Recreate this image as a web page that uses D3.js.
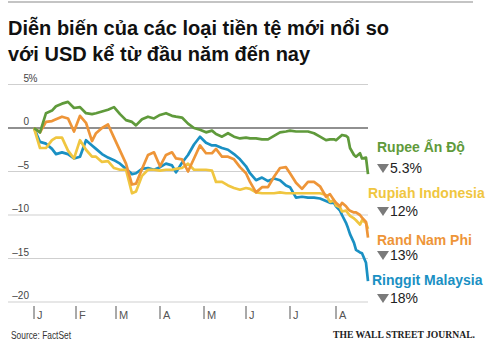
<!DOCTYPE html>
<html>
<head>
<meta charset="utf-8">
<script src="https://cdn.jsdelivr.net/npm/d3@7"></script>
<style>
  body { margin: 0; background: #fff; }
  svg { display: block; font-family: "Liberation Sans", Arial, sans-serif; }
</style>
</head>
<body>
<div id="chart"></div>
<script>
const titleLines = ["Diễn biến của các loại tiền tệ mới nổi so", "với USD kể từ đầu năm đến nay"];

// sampled trading days, 2015
const dates = [
  "2015-01-02", "2015-01-07", "2015-01-12", "2015-01-15", "2015-01-19", "2015-01-22", "2015-01-27", "2015-01-30",
  "2015-02-04", "2015-02-09", "2015-02-12", "2015-02-16", "2015-02-19", "2015-02-24", "2015-02-27",
  "2015-03-04", "2015-03-09", "2015-03-12", "2015-03-16", "2015-03-19", "2015-03-24", "2015-03-27",
  "2015-04-01", "2015-04-06", "2015-04-09", "2015-04-13", "2015-04-16", "2015-04-21", "2015-04-24", "2015-04-29",
  "2015-05-04", "2015-05-07", "2015-05-11", "2015-05-14", "2015-05-19", "2015-05-22", "2015-05-27",
  "2015-06-01", "2015-06-03", "2015-06-08", "2015-06-11", "2015-06-16", "2015-06-19", "2015-06-24", "2015-06-29",
  "2015-07-01", "2015-07-06", "2015-07-09", "2015-07-14", "2015-07-17", "2015-07-22", "2015-07-27", "2015-07-29",
  "2015-07-31", "2015-08-03", "2015-08-05", "2015-08-06", "2015-08-10", "2015-08-11", "2015-08-12", "2015-08-14",
  "2015-08-17", "2015-08-19", "2015-08-20", "2015-08-24", "2015-08-25"
];

// % change vs USD since start of year
const rupee = [
  0, -0.5, 1.7, 2.0, 2.5, 2.8, 3.0, 2.3, 2.4, 1.7, 1.6, 1.7, 1.9, 2.1, 2.4,
  1.6, 0.9, 0.7, 0.3, 1.0, 1.3, 1.1, 1.5, 1.7, 1.4, 1.3, 1.2, 0.5, 0, -0.2,
  -0.5, -0.3, -0.7, -1.0, -0.6, -1.0, -1.2, -1.1, -1.2, -1.2, -1.3, -1.3, -0.9, -0.5,
  -0.4, -0.3, -0.4, -0.4, -0.4, -0.6, -1.0, -1.4, -1.3,
  -1.3, -1.4, -1.0, -0.8, -0.9, -1.1, -2.3, -3.1, -3.3, -2.9, -3.5, -3.4, -5.3
];
const rupiah = [
  0, -2.3, -2.3, -1.4, -1.1, -1.1, -2.6, -3.5, -1.4, -2.5, -3.3, -3.3, -3.9, -3.8, -4.6,
  -4.8, -4.8, -7.5, -7.3, -5.5, -4.8, -4.8, -4.9, -4.8, -4.8, -4.7, -4.6, -4.1, -4.8, -4.8,
  -4.8, -4.9, -6.2, -6.2, -6.6, -6.9, -7.1, -6.9, -7.0, -7.4, -7.5, -7.5, -7.5, -7.4,
  -7.5, -7.5, -7.5, -7.5, -7.5, -7.5, -7.5, -7.7, -8.5,
  -8.3, -8.9, -9.1, -9.6, -9.5, -9.8, -10.1, -10.4, -10.6, -11.1, -10.6, -10.9, -11.6
];
const rand = [
  0, -0.5, 0.7, 0.8, 1.0, 1.3, 1.1, -0.4, 1.4, 0.6, -1.5, -0.6, 0.0, 0.4, -1.1,
  -2.6, -4.1, -6.5, -6.4, -4.7, -3.1, -2.8, -4.4, -3.1, -2.8, -3.5, -3.6, -5.0, -3.5, -2.0,
  -2.9, -2.9, -2.4, -3.3, -3.3, -3.6, -4.5, -5.2, -6.2, -7.4, -6.8, -6.8, -5.6, -4.6,
  -4.5, -5.2, -6.3, -7.0, -6.2, -6.2, -6.7, -7.9, -7.6,
  -8.3, -8.6, -9.0, -8.6, -9.0, -9.3, -9.5, -9.7, -9.7, -10.0, -10.3, -10.8, -12.6
];
const ringgit = [
  0, -1.6, -1.8, -2.4, -3.0, -2.8, -3.0, -3.5, -3.3, -1.4, -2.0, -2.4, -3.0, -3.4, -3.7,
  -4.1, -4.7, -5.3, -5.2, -4.7, -4.6, -4.8, -4.5, -4.1, -4.3, -5.1, -4.0, -3.1, -1.9, -1.0,
  -1.7, -2.0, -2.0, -2.3, -2.5, -3.0, -3.6, -4.4, -5.2, -6.0, -5.7, -6.1, -5.8, -6.0,
  -6.6, -6.8, -8.0, -7.9, -8.0, -8.0, -8.1, -8.4, -8.6,
  -8.6, -9.0, -9.5, -10.0, -10.9, -11.5, -12.2, -13.2, -14.0, -14.3, -14.4, -15.5, -17.6
];

const seriesNames = ["Rupee Ấn Độ", "Rupiah Indonesia", "Rand Nam Phi", "Ringgit Malaysia"];
const changeLabels = ["5.3%", "12%", "13%", "18%"];
const yTicks = [5, 0, -5, -10, -15, -20];
const monthLabels = ["J", "F", "M", "A", "M", "J", "J", "A"];

const colors = {
  rupee: "#5f9a3b",
  rupiah: "#f0c640",
  rand: "#ee9538",
  ringgit: "#1a90c3"
};

const width = 500, height = 354;
const svg = d3.select("#chart").append("svg")
  .attr("width", width)
  .attr("height", height);

const parse = d3.timeParse("%Y-%m-%d");
const start = parse(dates[0]);
const isWeekday = d => d.getDay() !== 0 && d.getDay() !== 6;
// x axis runs on trading days, not calendar days
const tradingDay = d => d3.timeDay.range(start, d).filter(isWeekday).length;

const parsed = dates.map(parse);
const dayIdx = parsed.map(tradingDay);

const x = d3.scaleLinear()
  .domain([0, d3.max(dayIdx)])
  .range([34, 368]);

const y = d3.scaleLinear()
  .domain([-20, 5])
  .range([302, 84.5]);

// top rule
svg.append("line")
  .attr("x1", 8).attr("x2", 473)
  .attr("y1", 2).attr("y2", 2)
  .attr("stroke", "#8a8a8a")
  .attr("stroke-width", 1.2);

// title
svg.append("g").selectAll("text")
  .data(titleLines)
  .join("text")
  .attr("x", 8)
  .attr("y", (d, i) => 35 + i * 26)
  .attr("font-size", "20px")
  .attr("font-weight", "bold")
  .attr("fill", "#111")
  .text(d => d);

// gridlines
svg.append("g").selectAll("line")
  .data(yTicks)
  .join("line")
  .attr("x1", 8).attr("x2", 368)
  .attr("y1", d => y(d)).attr("y2", d => y(d))
  .attr("stroke", d => d === 0 ? "#222" : "#cfcfcf")
  .attr("stroke-width", d => d === 0 ? 1.2 : 1);

const yLab = svg.append("g")
  .attr("font-size", "10px")
  .attr("fill", "#444");

yLab.selectAll("text")
  .data(yTicks)
  .join("text")
  .attr("x", 29)
  .attr("y", d => y(d) - 3)
  .attr("text-anchor", "end")
  .text(d => d < 0 ? "\u2013" + Math.abs(d) : d);

yLab.append("text")
  .attr("x", 28.5)
  .attr("y", y(5) - 3)
  .text("%");

// month ticks
const months = d3.timeMonth.range(new Date(2015, 0, 1), new Date(2015, 8, 1));
const xAxis = svg.append("g");
xAxis.selectAll("line")
  .data(months)
  .join("line")
  .attr("x1", d => x(tradingDay(d)))
  .attr("x2", d => x(tradingDay(d)))
  .attr("y1", 306).attr("y2", 319)
  .attr("stroke", "#555")
  .attr("stroke-width", 1);

xAxis.selectAll("text")
  .data(months)
  .join("text")
  .attr("x", d => x(tradingDay(d)) + 3)
  .attr("y", 319)
  .attr("font-size", "11px")
  .attr("fill", "#555")
  .text((d, i) => monthLabels[i]);

// lines
const line = d3.line()
  .x((d, i) => x(dayIdx[i]))
  .y(d => y(d));

const series = [
  { key: "ringgit", values: ringgit },
  { key: "rupiah", values: rupiah },
  { key: "rand", values: rand },
  { key: "rupee", values: rupee }
];

svg.append("g").selectAll("path")
  .data(series)
  .join("path")
  .attr("fill", "none")
  .attr("stroke", d => colors[d.key])
  .attr("stroke-width", 2.7)
  .attr("stroke-linejoin", "round")
  .attr("d", d => line(d.values));

// right side labels
const labelPos = [
  { key: "rupee", x: 377, y: 152, y2: 173 },
  { key: "rupiah", x: 368, y: 198, y2: 216 },
  { key: "rand", x: 377, y: 245, y2: 260 },
  { key: "ringgit", x: 372, y: 285, y2: 303 }
];

const labels = svg.append("g").selectAll("g")
  .data(labelPos)
  .join("g");

labels.append("text")
  .attr("x", d => d.x)
  .attr("y", d => d.y)
  .attr("font-size", "14px")
  .attr("font-weight", "bold")
  .attr("fill", d => colors[d.key])
  .text((d, i) => seriesNames[i]);

labels.append("path")
  .attr("d", d => `M${377},${d.y2 - 9}L${389},${d.y2 - 9}L${383},${d.y2}Z`)
  .attr("fill", "#7a7a7a");

labels.append("text")
  .attr("x", 390)
  .attr("y", d => d.y2)
  .attr("font-size", "14px")
  .attr("fill", "#222")
  .text((d, i) => changeLabels[i]);

// footer
svg.append("text")
  .attr("x", 11)
  .attr("y", 339)
  .attr("font-size", "10px")
  .attr("fill", "#333")
  .attr("textLength", 60)
  .attr("lengthAdjust", "spacingAndGlyphs")
  .text("Source: FactSet");

svg.append("text")
  .attr("x", 333)
  .attr("y", 338)
  .attr("font-family", "'Liberation Serif', 'Times New Roman', serif")
  .attr("font-size", "10px")
  .attr("font-weight", "bold")
  .attr("fill", "#222")
  .attr("textLength", 142)
  .attr("lengthAdjust", "spacingAndGlyphs")
  .text("THE WALL STREET JOURNAL.");
</script>
</body>
</html>
